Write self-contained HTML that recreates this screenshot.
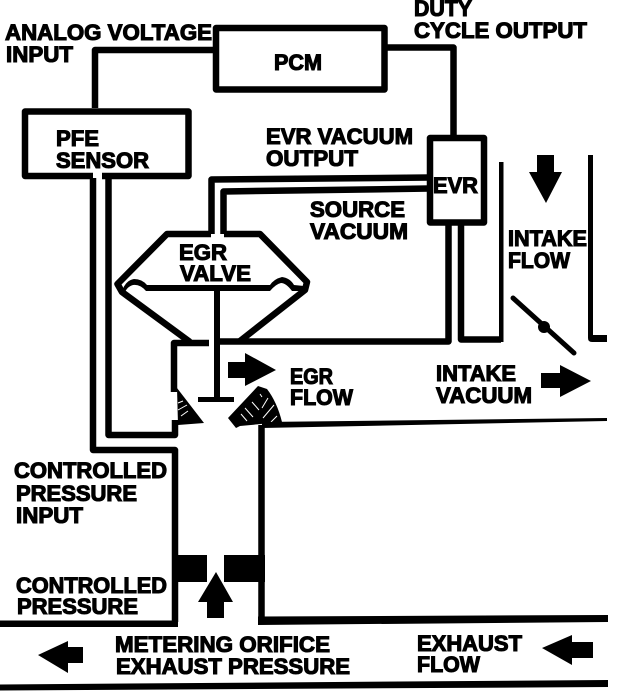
<!DOCTYPE html>
<html>
<head>
<meta charset="utf-8">
<style>
html,body{margin:0;padding:0;background:#fff;width:624px;height:694px;overflow:hidden}
svg{display:block}
text{font-family:"Liberation Sans",Arial,sans-serif;font-weight:bold;font-size:22px;fill:#000;stroke:#000;stroke-width:1.1px}
.l{fill:none;stroke:#000;stroke-width:6.5;stroke-linejoin:round;stroke-linecap:butt}
.h{stroke:#fff;stroke-width:1;fill:none}
</style>
</head>
<body>
<svg width="624" height="694" viewBox="0 0 624 694" xmlns="http://www.w3.org/2000/svg">
<!-- PCM -->
<path class="l" d="M216 28H384.500V89.500H216Z"/>
<path class="l" d="M95 108V50H216"/>
<path class="l" d="M384 47.500H453.500V135"/>
<!-- PFE -->
<path class="l" d="M93 176H25V111.500H188.500V176H102"/>
<!-- PFE to seat lines -->
<path class="l" d="M108.500 176V435H175V420"/>
<path class="l" d="M93 178V450H175V622"/>
<path d="M0 620.500H178V627H0Z"/>
<!-- EVR -->
<path class="l" d="M430 138H484V222.500H430Z"/>
<path class="l" d="M430 177.500L211.500 179.500V234"/>
<path class="l" d="M430 188.500L223.500 191.500V234"/>
<path class="l" d="M448.500 224V341.500H220"/>
<path class="l" d="M461 224V339.500H501"/>
<path d="M499 162H503.500V342H499Z"/>
<!-- right intake wall -->
<path d="M588 155H593V335H607V342H592Q588 342 588 338Z"/>
<!-- valve -->
<path class="l" d="M211 234H167L117.500 284L122 292L190 342"/>
<path class="l" d="M224 234H260L307 282L305 290L240 341"/>
<path d="M122 293Q124 281 134 279Q142 279 147 285H270Q274 279 282 277Q290 278 294 285L304 286V291H292Q286 283 281 283Q276 284 270 291H146Q140 284 133 285Q126 287 124 295Z"/>
<path d="M214 288H220V397H234V402H198V397H214Z"/>
<path class="l" d="M209 343H174V392"/>
<!-- seats -->
<path d="M177 388L204 423L178 425Z"/>
<path d="M258 386L267 389Q277 402 282 422L240 426L236 428L228 418Z"/>
<path class="h" d="M178 403L183 401M178 410L187 405M181 416L188 411"/>
<path class="h" d="M260 394L262 397M252 402L259 410M245 408L253 417M241 414L247 421M268 398L262 408M274 405L263 418M277 416L271 422"/>
<!-- right wall & manifold -->
<path class="l" d="M261.500 425V618"/>
<path d="M262 422L607 418V421L262 428Z"/>
<path d="M258 616.500L608 615V622L258 625Z"/>
<path d="M0 684.500L608 680V687L0 690.500Z"/>
<!-- orifice -->
<path d="M172 555H207V582H172Z"/>
<path d="M224 555H265V582H224Z"/>
<!-- arrows -->
<path d="M228 362H245V353L276 370L245 386V378H228Z"/>
<path d="M537 155H554V172H562L546 203L529 172H537Z"/>
<path d="M541 373H560V365L591 381L560 397V388H541Z"/>
<path d="M207 618V602H198L216 572L233 602H224V618Z"/>
<path d="M83 647V663H68V673L38 655L68 641V647Z"/>
<path d="M593 642V658H572V665L542 648L572 635V642Z"/>
<!-- throttle -->
<path d="M513 298L574 353" stroke="#000" stroke-width="5" stroke-linecap="round"/>
<circle cx="544" cy="327" r="6"/>
<!-- text -->
<text x="5" y="40" textLength="207" lengthAdjust="spacingAndGlyphs">ANALOG VOLTAGE</text>
<text x="6" y="62" textLength="67" lengthAdjust="spacingAndGlyphs">INPUT</text>
<text x="56" y="146" textLength="43" lengthAdjust="spacingAndGlyphs">PFE</text>
<text x="56" y="168" textLength="93" lengthAdjust="spacingAndGlyphs">SENSOR</text>
<text x="274" y="70" textLength="48" lengthAdjust="spacingAndGlyphs">PCM</text>
<text x="414" y="16" textLength="58" lengthAdjust="spacingAndGlyphs">DUTY</text>
<text x="414" y="38" textLength="173" lengthAdjust="spacingAndGlyphs">CYCLE OUTPUT</text>
<text x="266" y="144" textLength="147" lengthAdjust="spacingAndGlyphs">EVR VACUUM</text>
<text x="266" y="166" textLength="92" lengthAdjust="spacingAndGlyphs">OUTPUT</text>
<text x="433" y="193" textLength="45" lengthAdjust="spacingAndGlyphs">EVR</text>
<text x="310" y="217" textLength="95" lengthAdjust="spacingAndGlyphs">SOURCE</text>
<text x="310" y="239" textLength="98" lengthAdjust="spacingAndGlyphs">VACUUM</text>
<text x="508" y="246" textLength="79" lengthAdjust="spacingAndGlyphs">INTAKE</text>
<text x="508" y="268" textLength="62" lengthAdjust="spacingAndGlyphs">FLOW</text>
<text x="179" y="260" textLength="48" lengthAdjust="spacingAndGlyphs">EGR</text>
<text x="180" y="281" textLength="71" lengthAdjust="spacingAndGlyphs">VALVE</text>
<text x="290" y="384" textLength="43" lengthAdjust="spacingAndGlyphs">EGR</text>
<text x="290" y="405" textLength="63" lengthAdjust="spacingAndGlyphs">FLOW</text>
<text x="436" y="381" textLength="80" lengthAdjust="spacingAndGlyphs">INTAKE</text>
<text x="436" y="403" textLength="96" lengthAdjust="spacingAndGlyphs">VACUUM</text>
<text x="14" y="478" textLength="153" lengthAdjust="spacingAndGlyphs">CONTROLLED</text>
<text x="16" y="501" textLength="121" lengthAdjust="spacingAndGlyphs">PRESSURE</text>
<text x="16" y="523" textLength="67" lengthAdjust="spacingAndGlyphs">INPUT</text>
<text x="16" y="593" textLength="151" lengthAdjust="spacingAndGlyphs">CONTROLLED</text>
<text x="17" y="614" textLength="121" lengthAdjust="spacingAndGlyphs">PRESSURE</text>
<text x="115" y="652" textLength="215" lengthAdjust="spacingAndGlyphs">METERING ORIFICE</text>
<text x="116" y="674" textLength="234" lengthAdjust="spacingAndGlyphs">EXHAUST PRESSURE</text>
<text x="417" y="651" textLength="105" lengthAdjust="spacingAndGlyphs">EXHAUST</text>
<text x="417" y="672" textLength="63" lengthAdjust="spacingAndGlyphs">FLOW</text>
</svg>
</body>
</html>
